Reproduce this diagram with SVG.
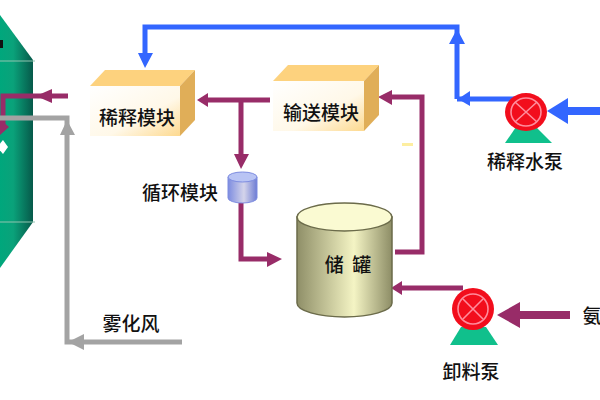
<svg xmlns="http://www.w3.org/2000/svg" width="600" height="400" viewBox="0 0 600 400">
<style>
text{font-family:"Noto Sans CJK SC","Noto Sans",sans-serif;font-size:19px;font-weight:500;fill:#111;text-anchor:middle;dominant-baseline:central}
.m{fill:none;stroke:#982c68;stroke-width:5}
.b{fill:none;stroke:#3366ff;stroke-width:5}
.g{fill:none;stroke:#a3a3a3;stroke-width:5}
.mf{fill:#982c68}.bf{fill:#3366ff}.gf{fill:#a3a3a3}
.top{fill:#fdd27e}.side{fill:#e0ae58}.front{fill:url(#boxF)}
.pbase{fill:#10c08c}.pbody{fill:#f20d1c}
.px{fill:none;stroke:#ff8c9c;stroke-width:1.6}
</style>
<defs>
<linearGradient id="tw" x1="0" x2="1" y1="0" y2="0"><stop offset="0" stop-color="#00a77c"/><stop offset="0.4" stop-color="#0aa27a"/><stop offset="1" stop-color="#06594a"/></linearGradient>
<linearGradient id="boxF" x1="0" y1="0" x2="1" y2="1"><stop offset="0" stop-color="#fff"/><stop offset="0.6" stop-color="#fff8e8"/><stop offset="1" stop-color="#fdd98f"/></linearGradient>
<linearGradient id="tank" x1="0" x2="1" y1="0" y2="0"><stop offset="0" stop-color="#8f8f68"/><stop offset="0.6" stop-color="#f4f4c4"/><stop offset="1" stop-color="#8d8d66"/></linearGradient>
<linearGradient id="cyl" x1="0" x2="1" y1="0" y2="0"><stop offset="0" stop-color="#7d8ce0"/><stop offset="0.55" stop-color="#d4d4ea"/><stop offset="1" stop-color="#6d7cd4"/></linearGradient>
</defs>

<g id="tower">
<polygon points="0,15 33,60 33,222 0,268" fill="url(#tw)"/>
<path d="M0,61H35M0,222H35" stroke="#8fc4b0" stroke-width="1" fill="none"/>
<rect x="0" y="40" width="3" height="8" fill="#111"/>
<polygon points="-3,147 3,140 8,147 3,154" fill="#fff"/>
</g>

<g id="connectors">
<path class="m" d="M68,96H3V125"/>
<polygon class="mf" points="36,96 52,89 52,103"/>
<polygon class="mf" points="9,127 0,119 0,135"/>
<path class="g" d="M0,118H67V342H182"/>
<polygon class="gf" points="67,120 60,135 75,135"/>
<polygon class="gf" points="68,342 84,334 84,350"/>
<path class="b" d="M457,99V27H145V58"/>
<polygon class="bf" points="145,68 138,53 153,53"/>
<polygon class="bf" points="457,29 449,44 465,44"/>
<path class="b" d="M457,99H515"/>
<polygon class="bf" points="458,99 470,91 470,106"/>
<path fill="none" stroke="#3366ff" stroke-width="8" d="M600,111H560"/>
<polygon class="bf" points="547,111 568,98 568,124"/>
<path class="m" d="M270,100H205M241,100V160"/>
<polygon class="mf" points="197,100 208,93 208,107"/>
<polygon class="mf" points="241,169 234,154 249,154"/>
<path class="m" d="M241,203V259H270"/>
<polygon class="mf" points="282,259 267,252 267,267"/>
<path class="m" d="M395,252H422V97H388"/>
<polygon class="mf" points="378,97 392,90 392,105"/>
<path class="m" d="M463,288H398"/>
<polygon class="mf" points="391,288 402,281 402,295"/>
<path fill="none" stroke="#982c68" stroke-width="8" d="M570,315H510"/>
<polygon class="mf" points="497,315 520,302 520,328"/>
<rect x="402" y="143" width="11" height="3" fill="#fdeea0"/>
</g>

<g id="dilution-module">
<polygon class="top" points="90,86 105,70 195,70 180,86"/>
<polygon class="side" points="180,86 195,70 195,120 180,136"/>
<rect class="front" x="90" y="86" width="90" height="50"/>
<text x="137" y="116">稀释模块</text>
</g>

<g id="transfer-module">
<polygon class="top" points="273,81 288,65 379,65 364,81"/>
<polygon class="side" points="364,81 379,65 379,115 364,131"/>
<rect class="front" x="273" y="81" width="91" height="50"/>
<text x="321" y="111">输送模块</text>
</g>

<g id="circulation-module">
<path d="M228,177V198A14.500,5 0 0 0 257,198V177Z" fill="url(#cyl)" stroke="#7d8ce0"/>
<ellipse cx="242.500" cy="177" rx="14.500" ry="5" fill="#b9c4f4" stroke="#7d8ce0"/>
<text x="180" y="191">循环模块</text>
</g>

<g id="tank-node">
<path d="M297,217V303A47.500,14 0 0 0 392,303V217Z" fill="url(#tank)" stroke="#6b6b4a" stroke-width="1.500"/>
<ellipse cx="344.500" cy="217" rx="47.500" ry="14" fill="#fafad2" stroke="#6b6b4a" stroke-width="1.500"/>
<text x="348" y="263" word-spacing="4">储 罐</text>
</g>

<g id="dilution-pump">
<polygon class="pbase" points="505,143 516,127 536,127 552,143"/>
<ellipse class="pbody" cx="526" cy="112" rx="21" ry="19"/>
<ellipse class="px" cx="526" cy="112" rx="15" ry="14"/>
<path class="px" d="M515,102L537,122M537,102L515,122"/>
<text x="525" y="160">稀释水泵</text>
</g>

<g id="unload-pump">
<polygon class="pbase" points="450,345 461,327 486,327 498,345"/>
<circle class="pbody" cx="473" cy="309" r="21"/>
<circle class="px" cx="473" cy="309" r="15"/>
<path class="px" d="M463,299L483,319M483,299L463,319"/>
<text x="471" y="370">卸料泵</text>
</g>

<g id="labels">
<text x="131" y="322">雾化风</text>
<text x="592" y="314">氨</text>
</g>
</svg>
